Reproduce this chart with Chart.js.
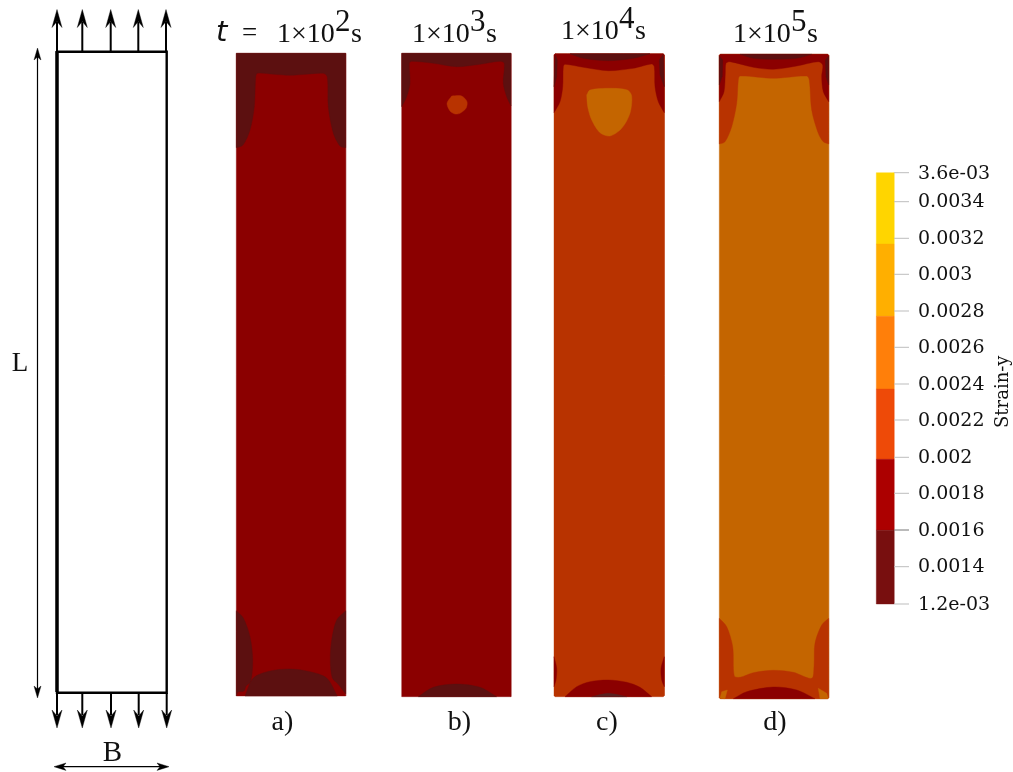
<!DOCTYPE html>
<html><head><meta charset="utf-8">
<style>html,body{margin:0;padding:0;background:#fff}canvas{display:block}</style>
<script src="https://cdn.jsdelivr.net/npm/chart.js@4"></script></head>
<body><canvas id="c" width="1013" height="772"></canvas>
<script>
// Contour levels of the strain field (colour per plotted band)
const colDark='#5c1010', colRed='#8b0000', colOrange='#b83300', colAmber='#c46500';
const panelLabels=['a)','b)','c)','d)'];
const timeExponents=['2','3','4','5'];
const colorbarLabels=['3.6e-03','0.0034','0.0032','0.003','0.0028','0.0026','0.0024','0.0022','0.002','0.0018','0.0016','0.0014','1.2e-03'];
const colorbarTickY=[172.7,201.7,238.3,274.3,311,347.3,384,420,457.3,493.3,530,566.7,604];
const colorbarBandEdges=[172.7,244,316.3,389,459.3,530.3,604];
const colorbarBandColors=['#ffd500','#ffaf00','#ff7f0a','#ee4a08','#ac0000','#780f0f'];
const topArrowX=[57,82.3,110.7,138.3,166];
const bottomArrowX=[57,82.3,111,138.7,166.7];
const panelEdgesX=[236.3,345.7,401.7,511,554,555,663.3,664.3,719.3,720.3,827.7,828.7];
const panelEdgesY=[53.3,53.7,54.3,696,696.7,698.7,697.7];

// panel a
const aBase=[[236.3,53.3],[345.7,53.3],[345.7,696],[236.3,696]];
const aTop=[[236.3,53.3],[345.7,53.3],[345.7,147.7],[340,146],[333.3,133],[328.3,106.7],[327.3,77],[323.3,73.3],[306,74.3],[290,75.3],[274,74.3],[257.3,73.3],[255.7,77],[254.3,106.7],[250,130],[243,145],[236.3,147.7]];
const aLeft=[[236.3,610.7],[243.3,618],[250,636.7],[252.7,660],[250.7,681.7],[246,686],[244,691],[238,692],[236.3,696]];
const aRight=[[345.7,610.7],[336.7,620],[331.7,640],[330.3,660],[332.3,678],[338,684],[345.7,694]];
const aDome=[[245,696],[253.3,678],[270,671],[290,669],[310,671.7],[326.7,678],[337.3,696]];
// panel b
const bBase=[[401.7,53.3],[511,53.3],[511,696.7],[401.7,696.7]];
const bTop=[[401.7,53.3],[511,53.3],[511,106],[506.7,96.7],[503.3,83.3],[504.3,63.3],[500,61.3],[480,64.3],[456.7,66.7],[433.3,63.3],[411.7,61.3],[409.3,63.3],[410,83.3],[406.7,96.7],[401.7,106.7]];
const bSpot=[[451.7,96],[461.7,96],[467,101.7],[466,108.3],[460,113.3],[455,114],[450,111],[447,103.3]];
const bDome=[[418.3,696.7],[433.3,687.3],[456.7,684],[480,687.3],[496.7,696.7]];
// panel c
const cBase=[[555,53.7],[663.3,53.7],[664.3,55],[664.3,695.7],[663.3,696.7],[555,696.7],[554,695.7],[554,55]];
const cRedTop=[[555,53.7],[663.3,53.7],[664.3,55],[664.3,112.7],[658.3,101.7],[655,86.7],[654.3,66.7],[651.7,64],[633.3,68.3],[608.3,70.7],[583.3,67.3],[565,64.3],[563.3,66.7],[562.7,86.7],[560,101.7],[554,112.7],[554,55]];
const cDarkTop=[[570,53.7],[650,53.7],[633.3,58.3],[608.3,60.7],[583.3,58.3]];
const cDarkL=[[555.3,55],[557.3,60],[556.7,76.7],[554,86.7]];
const cDarkR=[[663.3,54.3],[659.3,60],[660,75],[664.3,86.7]];
const cSpot=[[586.7,95],[590,90],[610,88.3],[627.3,90],[631.7,96],[630,113.3],[621.7,128.3],[610,136],[600,132.7],[591.7,120],[587.7,106.7]];
const cDome=[[565,696.7],[576.7,686.7],[590,681.7],[608.3,680],[626.7,682.3],[640,687.3],[651.7,696.7]];
const cDomeDark=[[591.7,696.7],[608.3,693.3],[626.7,696.7]];
const cLobeL=[[554,656.7],[556.7,668.3],[556,680],[554,686.7]];
const cLobeR=[[664.3,656.7],[661,668.3],[661.7,680],[664.3,686.7]];
// panel d
const dBase=[[720.3,54.3],[827.7,54.3],[828.7,55.3],[828.7,697.7],[827.7,698.7],[720.3,698.7],[719.3,697.7],[719.3,55.3]];
const dOrangeTop=[[720.3,54.3],[827.7,54.3],[828.7,55.3],[828.7,144],[823.3,141.7],[818.3,133.3],[811.7,110],[809.3,80],[806.7,76],[773.3,78.3],[740,76],[738.3,80],[736.7,103.3],[731.7,126.7],[725,141.7],[719.3,144],[719.3,55.3]];
const dRedTop=[[720.3,54.3],[827.7,54.3],[828.7,55.3],[828.7,101.7],[823.3,91.7],[821.7,76.7],[822.7,65],[818.3,61.7],[796.7,66],[773.3,69.3],[753.3,67.3],[730,61.7],[726,63.3],[725.3,73.3],[724,91.7],[719.3,101.7],[719.3,55.3]];
const dDarkTop=[[740,54.3],[811.7,54.3],[796.7,58.3],[773.3,59.3],[753.3,58.3]];
const dDarkL=[[719.3,56],[722.7,60],[722,76.7],[719.3,85]];
const dDarkR=[[828.7,56],[825.3,60],[826,76.7],[828.7,85]];
const dOrangeBot=[[719.3,618.3],[726.7,626.7],[732.7,646.7],[734.3,676],[740,677.3],[753.3,672.7],[773.3,670.3],[793.3,672.3],[811.7,678.3],[814,666.7],[815,643.3],[821.7,625],[828.7,618.3],[828.7,697.7],[827.7,698.7],[720.3,698.7],[719.3,697.7]];
const dDome=[[733.3,698.7],[746.7,691.7],[773.3,687],[796.7,690],[815,698.7]];
const dCornerL=[[720,698.3],[721.7,691.7],[727.3,690],[725,698.7]];
const dCornerR=[[818.3,688.3],[826.7,693.3],[828.3,698.7],[820,698.7]];
// schematic
const specimen=[[57,51.7],[166.7,51.7],[166.7,692.7],[57,692.7],[57,51.7]];

const sets=[];
const fillPoly=(pts,color,tension=0)=>{
  const d=[];
  pts.concat([pts[0]]).forEach(p=>{
    d.push({x:p[0],y:p[1]});
    if(tension>0&&(panelEdgesX.includes(p[0])||panelEdgesY.includes(p[1]))) d.push({x:p[0],y:p[1]});
  });
  sets.push({data:d,showLine:true,fill:'shape',backgroundColor:color,borderColor:color,borderWidth:0.4,pointRadius:0,tension});
};
const stroke=(pts,color,w)=>{
  sets.push({data:pts.map(p=>({x:p[0],y:p[1]})),showLine:true,fill:false,borderColor:color,borderWidth:w,pointRadius:0,tension:0});
};
const T=0.3;
[[aBase,colRed,0],[aTop,colDark,T],[aLeft,colDark,T],[aRight,colDark,T],[aDome,colDark,T],
 [bBase,colRed,0],[bTop,colDark,T],[bSpot,colOrange,T],[bDome,colDark,T],
 [cBase,colOrange,0],[cRedTop,colRed,T],[cDarkTop,colDark,T],[cDarkL,colDark,0],[cDarkR,colDark,0],[cSpot,colAmber,T],[cDome,colRed,T],[cDomeDark,'#5a2020',T],[cLobeL,colRed,T],[cLobeR,colRed,T],
 [dBase,colAmber,0],[dOrangeTop,colOrange,T],[dRedTop,colRed,T],[dDarkTop,colDark,T],[dDarkL,colDark,0],[dDarkR,colDark,0],[dOrangeBot,colOrange,T],[dDome,colRed,T],[dCornerL,colAmber,0],[dCornerR,colAmber,0]
].forEach(a=>fillPoly(a[0],a[1],a[2]));

// colour bar
colorbarBandColors.forEach((c,i)=>fillPoly([[876.3,colorbarBandEdges[i]],[894,colorbarBandEdges[i]],[894,colorbarBandEdges[i+1]],[876.3,colorbarBandEdges[i+1]]],c));
colorbarTickY.forEach((y,i)=>stroke([[894,y],[909,y]],(i===10)?'#777':'#bdbdbd',1));

// schematic marks
stroke(specimen,'#000',2.4);
stroke([[57,51],[57,692]],'#000',3.4);
const head=(x,tip,dir,len,w,notch)=>fillPoly([[x,tip],[x+w/2,tip+dir*len],[x,tip+dir*(len-notch)],[x-w/2,tip+dir*len]],'#000');
topArrowX.forEach(x=>{stroke([[x,51],[x,22]],'#000',2);head(x,9.5,1,18,10,6);});
bottomArrowX.forEach(x=>{stroke([[x,693],[x,715]],'#000',2);head(x,728,-1,18,10,6);});
stroke([[37.5,55],[37.5,690]],'#000',1.2);head(37.5,48,1,12,7,3);head(37.5,698,-1,12,7,3);
stroke([[62,766.7],[162,766.7]],'#000',1.2);
fillPoly([[54,766.7],[66,763],[63,766.7],[66,770.4]],'#000');
fillPoly([[169,766.7],[157,763],[160,766.7],[157,770.4]],'#000');

sets.forEach((s,i)=>{s.order=sets.length-i;});

const serif='"Liberation Serif"';
const textPlugin={id:'texts',afterDatasetsDraw(ch){
  const g=ch.ctx,X=ch.scales.x,Y=ch.scales.y;
  const put=(t,x,y,font,align='left',rot=0)=>{
    g.save();g.translate(X.getPixelForValue(x),Y.getPixelForValue(y));g.rotate(rot);
    g.font=font;g.fillStyle='#111';g.textAlign=align;g.textBaseline='alphabetic';g.fillText(t,0,0);g.restore();};
  put('t',216,41,'italic 29px "DejaVu Sans"');
  put('=',242,41,`27px ${serif}`);
  const titleX=[277,412,561,733],titleY=[41.7,42,39.3,41.7];
  timeExponents.forEach((e,i)=>{
    const x=titleX[i],y=titleY[i];
    put('1×10',x,y,`28px ${serif}`);
    put(e,x+58,y-11,`31px ${serif}`);
    put('s',x+74,y,`28px ${serif}`);
  });
  const labX=[282.5,459.5,607,775];
  panelLabels.forEach((t,i)=>put(t,labX[i],730,`28px ${serif}`,'center'));
  put('L',20,371,`27px ${serif}`,'center');
  put('B',112.5,761,`29px ${serif}`,'center');
  colorbarLabels.forEach((t,i)=>{
    put(t,918,colorbarTickY[i]+(i===0?6:5.5),'19px "DejaVu Serif"');
  });
  put('Strain-y',1008,428,'18px "DejaVu Serif"','left',-Math.PI/2);
}};

new Chart(document.getElementById('c'),{
  type:'scatter',
  data:{datasets:sets},
  options:{responsive:false,animation:false,events:[],
    layout:{padding:0},
    plugins:{legend:{display:false},tooltip:{enabled:false},title:{display:false}},
    scales:{x:{type:'linear',min:0,max:1013,display:false},y:{type:'linear',min:0,max:772,reverse:true,display:false}}},
  plugins:[textPlugin]
});
</script></body></html>
